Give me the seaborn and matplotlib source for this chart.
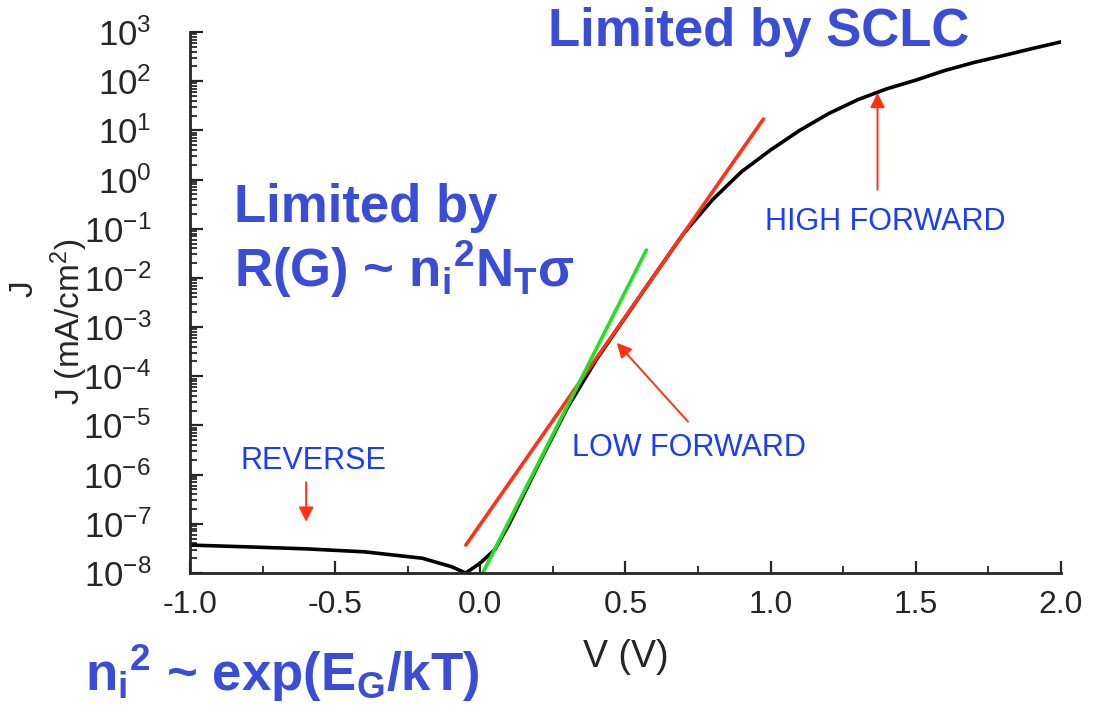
import numpy as np
import pandas as pd
import matplotlib
matplotlib.use("Agg")
import matplotlib.pyplot as plt
from matplotlib.ticker import LogLocator, MultipleLocator, FuncFormatter, NullFormatter
import seaborn as sns

# measured J-V curve (V in volts, J in mA/cm^2)
v_data = [-1.0, -0.8, -0.6, -0.4, -0.2, -0.1, -0.05, 0.0, 0.05, 0.1, 0.15, 0.2, 0.3,
          0.4, 0.5, 0.6, 0.7, 0.8, 0.9, 1.0, 1.1, 1.2, 1.3, 1.4, 1.5, 1.6, 1.7, 1.8,
          1.9, 2.0]
j_data = [3.7e-8, 3.4e-8, 3.1e-8, 2.7e-8, 2.0e-8, 1.35e-8, 1.0e-8, 1.6e-8, 3.0e-8,
          1.0e-7, 4.0e-7, 1.6e-6, 2.3e-5, 2.2e-4, 1.6e-3, 1.15e-2, 8.0e-2, 3.9e-1,
          1.45, 4.0, 1.0e1, 2.2e1, 4.2e1, 7.0e1, 1.05e2, 1.65e2, 2.4e2, 3.3e2,
          4.6e2, 6.3e2]

# fitted straight lines (end points)
v_red = [-0.05, 0.975]
j_red = [3.7e-8, 1.7e1]
v_green = [0.01, 0.572]
j_green = [1.05e-8, 3.7e-2]

# annotations: text, text position, arrow tail, arrow head
ann_text = ["REVERSE", "LOW FORWARD", "HIGH FORWARD"]
ann_text_xy = [(-0.575, 1.9e-6), (0.72, 3.5e-6), (1.395, 1.4e-1)]
ann_tail = [(-0.6, 7.0e-7), (0.715, 1.2e-5), (1.368, 6.2e-1)]
ann_head = [(-0.6, 1.1e-7), (0.47, 4.8e-4), (1.368, 5.8e1)]

df = pd.DataFrame({"V": v_data, "J": j_data})
df_red = pd.DataFrame({"V": v_red, "J": j_red})
df_green = pd.DataFrame({"V": v_green, "J": j_green})

sns.set_style("ticks")
plt.rcParams["font.family"] = ["Liberation Sans", "DejaVu Sans"]
plt.rcParams["mathtext.fontset"] = "custom"
plt.rcParams["mathtext.rm"] = "Liberation Sans"
plt.rcParams["mathtext.bf"] = "Liberation Sans:bold"
plt.rcParams["mathtext.it"] = "Liberation Sans"
plt.rcParams["mathtext.default"] = "regular"

fig = plt.figure(figsize=(11.06, 7.05), dpi=100)
ax = fig.add_axes([0.1718, 0.1872, 0.7875, 0.7674])

sns.lineplot(data=df, x="V", y="J", ax=ax, color="black", lw=2.6, sort=False,
             estimator=None)
sns.lineplot(data=df_red, x="V", y="J", ax=ax, color="#ff3314", lw=2.6, estimator=None)
sns.lineplot(data=df_green, x="V", y="J", ax=ax, color="#22e022", lw=2.6, estimator=None)

ax.set_yscale("log")
ax.set_xlim(-1.0, 2.0)
ax.set_ylim(1e-8, 1e3)

ax.yaxis.set_major_locator(LogLocator(base=10, numticks=20))
ax.yaxis.set_minor_locator(LogLocator(base=10, subs=np.arange(2, 10), numticks=200))
ax.yaxis.set_major_formatter(FuncFormatter(lambda y, p: "$10^{%d}$" % round(np.log10(y))))
ax.yaxis.set_minor_formatter(NullFormatter())
ax.xaxis.set_major_locator(MultipleLocator(0.5))
ax.xaxis.set_minor_locator(MultipleLocator(0.25))
ax.xaxis.set_major_formatter(FuncFormatter(lambda x, p: "%.1f" % x))

ax.tick_params(which="major", direction="in", length=9, width=1.6)
ax.tick_params(which="minor", direction="in", length=5, width=1.3)
ax.tick_params(axis="x", which="major", labelsize=23, pad=12)
ax.tick_params(axis="y", which="major", labelsize=25, pad=28)
for s in ["top", "right"]:
    ax.spines[s].set_visible(False)
for s in ["left", "bottom"]:
    ax.spines[s].set_linewidth(2.0)

ax.set_xlabel("V (V)", fontsize=27, va="center")
ax.xaxis.set_label_coords(0.5, -0.155)
ax.set_ylabel("J (mA/cm$^2$)", fontsize=24, va="center")
ax.yaxis.set_label_coords(-0.139, 0.464)
fig.text(0.022, 0.59, "J", rotation=90, fontsize=24, ha="center", va="center")

small_blue = "#1a3cff"
big_blue = "#3a4dd6"
for t, xy, tail, head in zip(ann_text, ann_text_xy, ann_tail, ann_head):
    ax.text(xy[0], xy[1], t, color=small_blue, fontsize=22, ha="center", va="center")
    ax.annotate("", xy=head, xytext=tail,
                arrowprops=dict(arrowstyle="-|>", color="#ff3314", lw=1.4,
                                mutation_scale=22, shrinkA=0, shrinkB=0))

fig.text(0.4955, 0.955, "Limited by SCLC", color=big_blue, fontsize=38,
         fontweight="bold", ha="left", va="center")
fig.text(0.212, 0.705, "Limited by", color=big_blue, fontsize=38,
         fontweight="bold", ha="left", va="center")
fig.text(0.212, 0.618, r"R(G) ~ n$\mathbf{_i}$$\mathbf{^2}$N$\mathbf{_T}$σ", color=big_blue,
         fontsize=38, fontweight="bold", ha="left", va="center")
fig.text(0.077, 0.045, r"n$\mathbf{_i}$$\mathbf{^2}$ ~ exp(E$\mathbf{_G}$/kT)", color=big_blue,
         fontsize=38, fontweight="bold", ha="left", va="center")

fig.savefig("out.png", dpi=100, facecolor="white")
